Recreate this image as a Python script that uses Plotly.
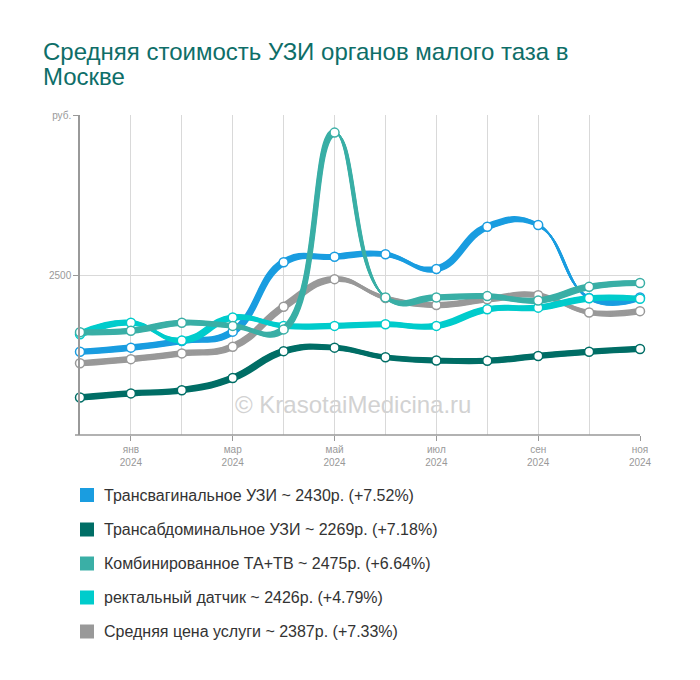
import plotly.graph_objects as go

months = ["дек 2023", "янв 2024", "фев 2024", "мар 2024", "апр 2024", "май 2024",
          "июн 2024", "июл 2024", "авг 2024", "сен 2024", "окт 2024", "ноя 2024"]
tick_idx = [1, 3, 5, 7, 9, 11]
tick_labels = ["янв<br>2024", "мар<br>2024", "май<br>2024", "июл<br>2024", "сен<br>2024", "ноя<br>2024"]

transvaginal = [2260, 2273, 2294, 2323, 2540, 2557, 2565, 2519, 2651, 2656, 2428, 2430]
transabdominal = [2117, 2130, 2140, 2178, 2262, 2273, 2243, 2233, 2232, 2247, 2260, 2269]
combined = [2321, 2326, 2351, 2341, 2330, 2945, 2430, 2430, 2434, 2420, 2463, 2475]
rectal = [2315, 2351, 2295, 2367, 2341, 2341, 2346, 2341, 2393, 2398, 2427, 2426]
average = [2224, 2237, 2255, 2276, 2401, 2487, 2428, 2406, 2424, 2437, 2383, 2387]

names = ["Трансвагинальное УЗИ", "Трансабдоминальное УЗИ", "Комбинированное ТА+ТВ",
         "ректальный датчик", "Средняя цена услуги"]
last_prices = [2430, 2269, 2475, 2426, 2387]
changes = ["+7.52%", "+7.18%", "+6.64%", "+4.79%", "+7.33%"]
colors = ["#1a9de0", "#006e66", "#3aafa6", "#00cccc", "#999999"]
series = [transvaginal, transabdominal, combined, rectal, average]
title_lines = ["Средняя стоимость УЗИ органов малого таза в", "Москве"]

X0, X1, Y0, Y1 = 80, 640, 115, 435
W, H = 700, 680
YMIN, YMAX = 2000, 3000
x = list(range(len(months)))
px_per_x = (X1 - X0) / (len(x) - 1)
px_per_y = (Y1 - Y0) / (YMAX - YMIN)

# calligraphic pen: copies of each line offset along a slanted nib (screen px)
NIB = (3.5, 4.5)
N_COPIES = 9

fig = go.Figure()
order = [4, 1, 0, 3, 2]
for i in order:
    for k in range(N_COPIES):
        f = k / (N_COPIES - 1) - 0.5
        dx = f * NIB[0] / px_per_x
        dy = -f * NIB[1] / px_per_y
        fig.add_trace(go.Scatter(
            x=[v + dx for v in x], y=[v + dy for v in series[i]], mode="lines",
            line=dict(color=colors[i], width=1.6, shape="spline", smoothing=1.3),
            hoverinfo="skip", showlegend=False, cliponaxis=False))
    fig.add_trace(go.Scatter(
        x=x, y=series[i], mode="markers", name=names[i],
        marker=dict(size=9, color="white", line=dict(color=colors[i], width=1.5)),
        hovertext=months, showlegend=False, cliponaxis=False))

def px(xp):
    return (xp - X0) / (X1 - X0)
def py(yp):
    return (Y1 - yp) / (Y1 - Y0)

shapes = []
annotations = []
shapes.append(dict(type="line", xref="paper", yref="paper", x0=px(75), x1=1, y0=0, y1=0,
                   line=dict(color="#999999", width=1.5), layer="above"))

row_y = [495, 529.5, 563.5, 597.5, 631.5]
for i in range(5):
    shapes.append(dict(type="rect", xref="paper", yref="paper",
                       x0=px(80), x1=px(94), y0=py(row_y[i] - 7), y1=py(row_y[i] + 7),
                       fillcolor=colors[i], line=dict(width=0)))
    annotations.append(dict(xref="paper", yref="paper", x=px(102), y=py(row_y[i]),
                            xanchor="left", yanchor="middle", showarrow=False,
                            text=f"{names[i]} ~ {last_prices[i]}р. ({changes[i]})",
                            font=dict(size=16, color="#333333")))

for t, yc in zip(title_lines, [51, 76]):
    annotations.append(dict(xref="paper", yref="paper", x=px(41), y=py(yc),
                            xanchor="left", yanchor="middle", showarrow=False,
                            text=t, font=dict(size=24, color="#0e6e68")))

annotations.append(dict(xref="paper", yref="paper", x=px(353), y=py(404),
                        xanchor="center", yanchor="middle", showarrow=False,
                        text="© KrasotaiMedicina.ru",
                        font=dict(size=24, color="#d2d2d2")))

fig.update_layout(
    width=W, height=H,
    margin=dict(l=X0, r=W - X1, t=Y0, b=H - Y1),
    paper_bgcolor="white", plot_bgcolor="white",
    font=dict(family="Liberation Sans, Arial, sans-serif"),
    shapes=shapes, annotations=annotations,
    showlegend=False,
    xaxis=dict(range=[0, 11], tickvals=tick_idx, ticktext=tick_labels,
               showgrid=True, gridcolor="#d9d9d9", gridwidth=1,
               ticks="outside", ticklen=5, tickcolor="#999999",
               tickfont=dict(size=10, color="#999999"),
               minor=dict(tickvals=[0, 2, 4, 6, 8, 10], showgrid=True,
                          gridcolor="#d9d9d9", gridwidth=1, ticks=""),
               showline=False, zeroline=False, fixedrange=True),
    yaxis=dict(range=[YMIN, YMAX], tickvals=[2500, 3000], ticktext=["2500", "руб."],
               showgrid=True, gridcolor="#d9d9d9", gridwidth=1,
               ticks="outside", ticklen=5, tickcolor="#999999",
               tickfont=dict(size=10, color="#999999"),
               showline=True, linecolor="#999999", linewidth=1.5,
               zeroline=False, fixedrange=True),
)
fig.write_html("out.html", config={"displayModeBar": False},
               post_script="document.body.style.margin='0';")
